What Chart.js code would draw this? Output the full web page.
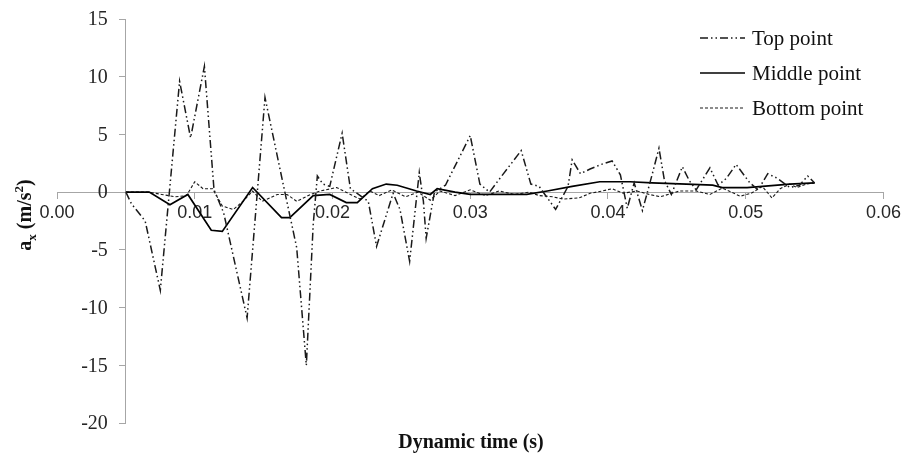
<!DOCTYPE html>
<html>
<head>
<meta charset="utf-8">
<script src="https://cdn.jsdelivr.net/npm/chart.js@4/dist/chart.umd.min.js"></script>
<style>
  body { margin: 0; background: #fff; }
  canvas { display: block; }
</style>
</head>
<body>
<canvas id="myChart" width="905" height="455"></canvas>
<script>
// time (s) and acceleration (m/s2)
const topTime = [0.0050, 0.0054, 0.0064, 0.0075, 0.0089, 0.0097, 0.0107, 0.0114, 0.0121, 0.0138,
  0.0151, 0.0164, 0.0174, 0.0181, 0.0186, 0.0189, 0.0193, 0.0198, 0.0207, 0.0213,
  0.0226, 0.0232, 0.0244, 0.0249, 0.0256, 0.0263, 0.0266, 0.0268, 0.0274, 0.0282,
  0.0300, 0.0307, 0.0314, 0.0319, 0.0337, 0.0344, 0.0350, 0.0362, 0.0371, 0.0374,
  0.0380, 0.0387, 0.0395, 0.0403, 0.0409, 0.0414, 0.0419, 0.0425, 0.0432, 0.0437,
  0.0441, 0.0446, 0.0454, 0.0459, 0.0464, 0.0474, 0.0480, 0.0486, 0.0493, 0.0503,
  0.0509, 0.0516, 0.0523, 0.0532, 0.0539, 0.0545, 0.0550];
const topAccel = [0, -1.0, -2.5, -8.5, 9.6, 4.7, 10.9, 0.2, -1.8, -10.9,
  8.2, 0.8, -4.8, -15.0, -2.8, 1.4, 0.7, 0.5, 5.1, 0.3,
  -0.8, -4.7, -0.1, -1.5, -6.0, 1.7, -0.8, -4.0, 0, 0.6,
  4.9, 0.7, 0, 0.8, 3.6, 0.7, 0.5, -1.5, 0.5, 2.8,
  1.6, 2.0, 2.4, 2.7, 1.5, -1.4, 0.8, -1.6, 1.5, 3.8,
  1.0, -0.2, 2.2, 1.0, 0.2, 2.1, 0.6, 1.2, 2.4, 0.8,
  0.2, 1.6, 1.2, 0.4, 0.6, 1.4, 0.8];

const midTime = [0.0050, 0.0067, 0.0082, 0.0095, 0.0112, 0.0120, 0.0142, 0.0163, 0.0169, 0.0186,
  0.0198, 0.0210, 0.0218, 0.0229, 0.0239, 0.0247, 0.0261, 0.0271, 0.0276, 0.0289,
  0.0300, 0.0341, 0.0356, 0.0374, 0.0394, 0.0416, 0.0432, 0.0457, 0.0476, 0.0483,
  0.0501, 0.0532, 0.0550];
const midAccel = [0, 0, -1.1, -0.2, -3.3, -3.4, 0.4, -2.2, -2.2, -0.3,
  -0.2, -0.9, -0.9, 0.3, 0.7, 0.6, 0.1, -0.2, 0.3, 0.0,
  -0.2, -0.2, 0.1, 0.5, 0.9, 0.9, 0.8, 0.7, 0.6, 0.4,
  0.4, 0.7, 0.8];

const botTime = [0.0050, 0.0067, 0.0076, 0.0086, 0.0094, 0.0100, 0.0106, 0.0113, 0.0120, 0.0128,
  0.0135, 0.0142, 0.0149, 0.0160, 0.0167, 0.0174, 0.0184, 0.0191, 0.0203, 0.0213,
  0.0220, 0.0227, 0.0234, 0.0243, 0.0253, 0.0262, 0.0271, 0.0278, 0.0289, 0.0300,
  0.0311, 0.0321, 0.0332, 0.0343, 0.0350, 0.0360, 0.0367, 0.0379, 0.0387, 0.0396,
  0.0403, 0.0411, 0.0421, 0.0430, 0.0438, 0.0452, 0.0464, 0.0474, 0.0483, 0.0496,
  0.0504, 0.0512, 0.0519, 0.0525, 0.0532, 0.0537, 0.0544, 0.0550];
const botAccel = [0, 0, -0.2, -0.4, -0.3, 0.9, 0.3, 0.3, -1.2, -1.5,
  -0.8, 0.1, -0.8, -0.2, -0.2, -0.8, -0.2, 0.1, 0.4, -0.2,
  -0.6, 0.1, -0.3, 0.2, -0.4, 0.0, -0.7, 0.1, -0.3, 0.2,
  -0.3, 0.1, -0.2, 0.0, -0.3, -0.4, -0.6, -0.5, -0.1, 0.1,
  0.3, -0.1, 0.1, -0.2, -0.4, 0.1, 0.1, -0.2, 0.35, -0.35,
  -0.1, 0.5, -0.5, 0.3, 0.7, 0.4, 0.7, 0.8];

const seriesNames = ["Top point", "Middle point", "Bottom point"];

const toPoints = (xs, ys) => xs.map((x, i) => ({ x: x, y: ys[i] }));

const serif = "'Liberation Serif', 'Times New Roman', serif";
const axisGrey = "#a6a6a6";
const yAxisAt = 0.005;

// y tick labels, legend and axis titles drawn on top
const decorations = {
  id: "decorations",
  afterDraw(chart) {
    const ctx = chart.ctx;
    const xs = chart.scales.x;
    const ys = chart.scales.y;
    ctx.save();

    // y tick labels (left of the crossing axis)
    const axisPx = xs.getPixelForValue(yAxisAt);
    ctx.font = "20px " + serif;
    ctx.fillStyle = "#262626";
    ctx.textAlign = "right";
    ctx.textBaseline = "middle";
    ys.ticks.forEach((t) => {
      ctx.fillText(String(t.value), axisPx - 18, ys.getPixelForValue(t.value) + 1);
    });

    // legend
    chart.data.datasets.forEach((ds, i) => {
      const y = 38 + i * 35;
      ctx.beginPath();
      ctx.setLineDash(ds.borderDash || []);
      ctx.lineWidth = ds.borderWidth;
      ctx.strokeStyle = ds.borderColor;
      ctx.moveTo(700, y);
      ctx.lineTo(745, y);
      ctx.stroke();
      ctx.setLineDash([]);
      ctx.fillStyle = "#111";
      ctx.font = "21px " + serif;
      ctx.textAlign = "left";
      ctx.textBaseline = "middle";
      ctx.fillText(ds.label, 752, y + 1);
    });

    // x title
    ctx.font = "bold 20px " + serif;
    ctx.textAlign = "center";
    ctx.textBaseline = "middle";
    ctx.fillStyle = "#111";
    ctx.fillText("Dynamic time (s)", 471, 443);

    // y title with sub/superscript
    const parts = [
      { t: "a", f: "bold 20px " + serif, dy: 0 },
      { t: "x", f: "bold 13px " + serif, dy: 5 },
      { t: " (m/s", f: "bold 20px " + serif, dy: 0 },
      { t: "2", f: "bold 13px " + serif, dy: -8 },
      { t: ")", f: "bold 20px " + serif, dy: 0 },
    ];
    let total = 0;
    parts.forEach((p) => { ctx.font = p.f; p.w = ctx.measureText(p.t).width; total += p.w; });
    ctx.translate(31, 215);
    ctx.rotate(-Math.PI / 2);
    ctx.textAlign = "left";
    ctx.textBaseline = "alphabetic";
    let px = -total / 2;
    parts.forEach((p) => {
      ctx.font = p.f;
      ctx.fillText(p.t, px, p.dy);
      px += p.w;
    });
    ctx.restore();
  },
};

const ctx = document.getElementById("myChart").getContext("2d");
new Chart(ctx, {
  type: "scatter",
  data: {
    datasets: [
      {
        label: seriesNames[0],
        data: toPoints(topTime, topAccel),
        showLine: true,
        borderColor: "#1a1a1a",
        borderWidth: 1.5,
        borderDash: [8, 3, 1.5, 3, 1.5, 3],
        pointRadius: 0,
        tension: 0,
      },
      {
        label: seriesNames[1],
        data: toPoints(midTime, midAccel),
        showLine: true,
        borderColor: "#000",
        borderWidth: 1.7,
        pointRadius: 0,
        tension: 0,
      },
      {
        label: seriesNames[2],
        data: toPoints(botTime, botAccel),
        showLine: true,
        borderColor: "#1a1a1a",
        borderWidth: 1.1,
        borderDash: [3, 2],
        pointRadius: 0,
        tension: 0,
      },
    ],
  },
  options: {
    responsive: false,
    animation: false,
    layout: { padding: { left: 57, right: 21, top: 19, bottom: 32 } },
    plugins: { legend: { display: false }, tooltip: { enabled: false } },
    scales: {
      x: {
        type: "linear",
        position: { y: 0 },
        min: 0,
        max: 0.06,
        afterFit: (s) => { s.height = 0; },
        grid: { drawOnChartArea: false, drawTicks: true, tickLength: 6, color: axisGrey },
        border: { display: true, color: axisGrey, width: 1 },
        ticks: {
          stepSize: 0.01,
          padding: 4,
          color: "#262626",
          font: { family: "'Liberation Sans', Arial, sans-serif", size: 18 },
          callback: (v) => Number(v).toFixed(2),
        },
      },
      y: {
        type: "linear",
        position: { x: yAxisAt },
        min: -20,
        max: 15,
        afterFit: (s) => { s.width = 0; },
        grid: { drawOnChartArea: false, drawTicks: true, tickLength: 6, color: axisGrey },
        border: { display: true, color: axisGrey, width: 1 },
        ticks: {
          stepSize: 5,
          display: false,
        },
      },
    },
  },
  plugins: [decorations],
});
</script>
</body>
</html>
